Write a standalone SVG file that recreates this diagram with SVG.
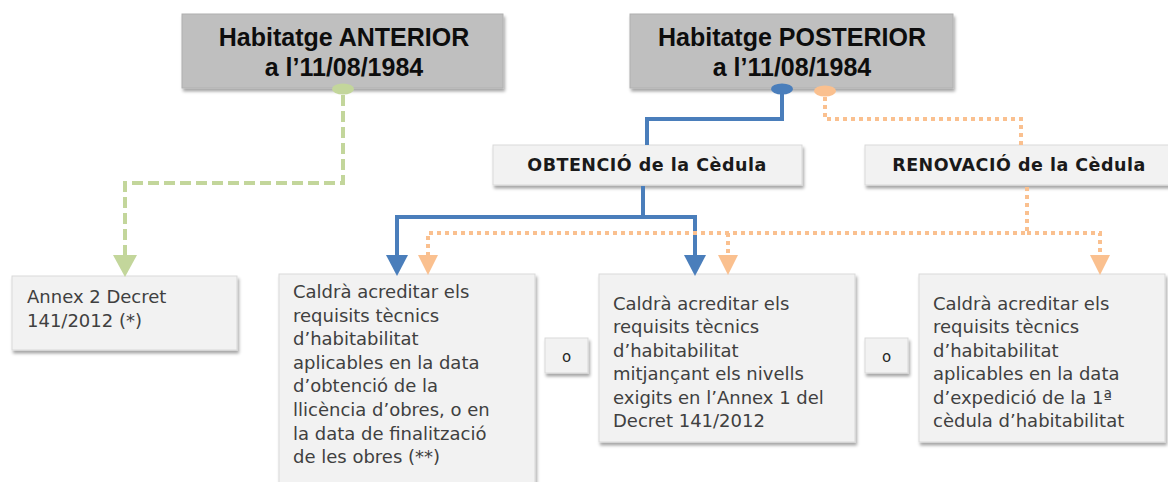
<svg xmlns="http://www.w3.org/2000/svg" width="1168" height="482" viewBox="0 0 1168 482">
<defs>
<filter id="sh" x="-10%" y="-10%" width="120%" height="130%">
<feDropShadow dx="1.5" dy="3" stdDeviation="1.8" flood-color="#000" flood-opacity="0.35"/>
</filter>
<style>
.hdr{fill:#bfbfbf;stroke:#b0b0b0;stroke-width:1;filter:url(#sh)}
.sub{fill:#f2f2f2;stroke:#d9d9d9;stroke-width:1;filter:url(#sh)}
.box{fill:#f2f2f2;stroke:#d9d9d9;stroke-width:1;filter:url(#sh)}
.ht{font-family:"Liberation Sans",Arial,sans-serif;font-weight:bold;font-size:25px;fill:#0d0d0d;text-anchor:middle}
.st{font-family:"DejaVu Sans",Verdana,sans-serif;font-weight:bold;font-size:17.5px;fill:#1a1a1a;text-anchor:middle;letter-spacing:0.5px}
.bt{font-family:"DejaVu Sans",Verdana,sans-serif;font-size:18px;fill:#404040}
.ot{font-family:"DejaVu Sans",Verdana,sans-serif;font-size:15px;fill:#262626;text-anchor:middle}
.blue{fill:none;stroke:#4a7ebb;stroke-width:4}
.orange{fill:none;stroke:#fac08f;stroke-width:4;stroke-dasharray:4 4}
.green{fill:none;stroke:#c3d69b;stroke-width:4;stroke-dasharray:11 5}
</style>
</defs>

<g id="hdr-anterior">
<rect class="hdr" x="182" y="14" width="321" height="74"/>
<text class="ht" x="344" y="46">Habitatge ANTERIOR</text>
<text class="ht" x="344" y="76">a l’11/08/1984</text>
</g>

<g id="hdr-posterior">
<rect class="hdr" x="630" y="14" width="323" height="74"/>
<text class="ht" x="792" y="46">Habitatge POSTERIOR</text>
<text class="ht" x="792" y="76">a l’11/08/1984</text>
</g>

<g id="obtencio">
<rect class="sub" x="493" y="145" width="309" height="40"/>
<text class="st" x="647" y="171">OBTENCIÓ de la Cèdula</text>
</g>

<g id="renovacio">
<rect class="sub" x="865" y="145" width="310" height="40"/>
<text class="st" x="1019" y="171">RENOVACIÓ de la Cèdula</text>
</g>

<g id="annex2">
<rect class="box" x="12" y="276" width="225" height="74"/>
<text class="bt" x="27" y="303">Annex 2 Decret</text>
<text class="bt" x="27" y="327">141/2012 (*)</text>
</g>

<g id="req-llicencia">
<rect class="box" x="279" y="274" width="256" height="220"/>
<text class="bt" x="293" y="298">Caldrà acreditar els</text>
<text class="bt" x="293" y="322">requisits tècnics</text>
<text class="bt" x="293" y="345">d’habitabilitat</text>
<text class="bt" x="293" y="369">aplicables en la data</text>
<text class="bt" x="293" y="392">d’obtenció de la</text>
<text class="bt" x="293" y="416">llicència d’obres, o en</text>
<text class="bt" x="293" y="440">la data de finalització</text>
<text class="bt" x="293" y="463">de les obres (**)</text>
</g>

<g id="o1">
<rect class="box" x="545" y="338" width="43" height="35"/>
<text class="ot" x="566.5" y="362">o</text>
</g>

<g id="req-annex1">
<rect class="box" x="599" y="274" width="256" height="168"/>
<text class="bt" x="613" y="310">Caldrà acreditar els</text>
<text class="bt" x="613" y="333">requisits tècnics</text>
<text class="bt" x="613" y="357">d’habitabilitat</text>
<text class="bt" x="613" y="380">mitjançant els nivells</text>
<text class="bt" x="613" y="404">exigits en l’Annex 1 del</text>
<text class="bt" x="613" y="427">Decret 141/2012</text>
</g>

<g id="o2">
<rect class="box" x="865" y="338" width="43" height="35"/>
<text class="ot" x="886.5" y="362">o</text>
</g>

<g id="req-expedicio">
<rect class="box" x="919" y="274" width="246" height="168"/>
<text class="bt" x="933" y="310">Caldrà acreditar els</text>
<text class="bt" x="933" y="333">requisits tècnics</text>
<text class="bt" x="933" y="357">d’habitabilitat</text>
<text class="bt" x="933" y="380">aplicables en la data</text>
<text class="bt" x="933" y="404">d’expedició de la 1ª</text>
<text class="bt" x="933" y="427">cèdula d’habitabilitat</text>
</g>

<g id="connectors">
<path class="green" d="M343,95 V183 H125 V256"/>
<polygon points="113,255 137,255 125,277" fill="#c3d69b"/>
<path class="blue" d="M782,92 V119 H647 V145"/>
<path class="blue" d="M643,186 V217 H397 V256"/>
<path class="blue" d="M643,217 H695 V256"/>
<polygon points="386,255 408,255 397,276" fill="#4a7ebb"/>
<polygon points="684,255 706,255 695,276" fill="#4a7ebb"/>
<path class="orange" d="M825,97 V119 H1021 V145"/>
<path class="orange" d="M1027,187 V233 H428 V256"/>
<path class="orange" d="M728,233 V256"/>
<path class="orange" d="M1027,233 H1100 V256"/>
<polygon points="418,255 438,255 428,275" fill="#fac08f"/>
<polygon points="718,255 738,255 728,275" fill="#fac08f"/>
<polygon points="1090,255 1110,255 1100,275" fill="#fac08f"/>
<ellipse cx="343" cy="89" rx="11" ry="5.5" fill="#c3d69b"/>
<ellipse cx="782" cy="89" rx="11" ry="5.5" fill="#4a7ebb"/>
<ellipse cx="825" cy="91" rx="11" ry="5.5" fill="#fac08f"/>
</g>
</svg>
